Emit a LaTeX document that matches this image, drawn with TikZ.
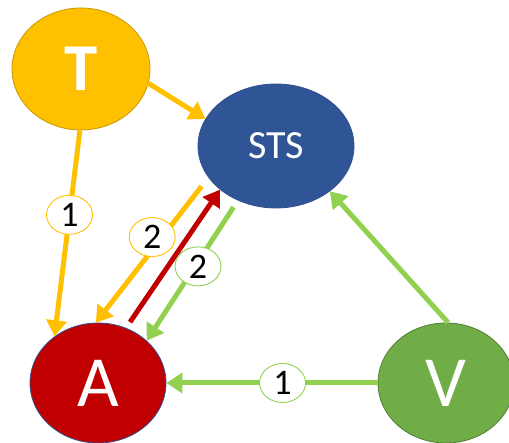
\documentclass[tikz,border=0pt]{standalone}
\usepackage{fontspec}
\setmainfont{Carlito}
\usetikzlibrary{shapes.geometric,arrows.meta}
\definecolor{cT}{HTML}{FFC000}
\definecolor{cTd}{HTML}{C99700}
\definecolor{cS}{HTML}{2F5597}
\definecolor{cSd}{HTML}{2F528F}
\definecolor{cA}{HTML}{C00000}
\definecolor{cV}{HTML}{70AD47}
\definecolor{cVd}{HTML}{507E32}
\definecolor{cG}{HTML}{92D050}
\tikzset{
  blob/.style={ellipse, inner sep=0pt, line width=0.8pt, text=white},
  conn/.style={line width=5pt, -{Triangle[length=16pt,width=20pt]}},
  lab/.style={ellipse, fill=white, line width=0.9pt, inner sep=0pt,
    minimum width=46pt, minimum height=39pt, text=black,
    font=\fontsize{36}{40}\selectfont},
}
\begin{document}
\begin{tikzpicture}[x=1pt,y=1pt]
\useasboundingbox (0,0) rectangle (509,443);
\clip (0,0) rectangle (509,443);
\node[blob, fill=cT, draw=cTd, minimum width=138pt, minimum height=122pt,
  font=\fontsize{67}{70}\selectfont\bfseries] (T) at (81,374) {T};
\node[blob, fill=cS, draw=cSd, minimum width=156pt, minimum height=124pt,
  font=\fontsize{40}{44}\selectfont] (S) at (276,297) {STS};
\node[blob, fill=cA, draw=cSd, minimum width=136pt, minimum height=120pt,
  font=\fontsize{72}{76}\selectfont] (A) at (98,60) {A};
\node[blob, fill=cV, draw=cVd, minimum width=136pt, minimum height=120pt,
  font=\fontsize{72}{76}\selectfont] (V) at (446,60) {V};
% T -> STS
\draw[conn, cT] (T.-12) -- (S.159);
% T -> A
\draw[conn, cT] (T.-91) -- node[lab, draw=cT, pos=0.41] (l1) {1} (A.133);
% STS -> A orange
\draw[conn, cT, shorten <=11pt] (S.205) -- node[lab, draw=cT, pos=0.41, xshift=-10pt] (l2) {2} (A.92);
% A -> STS red
\draw[conn, cA, shorten <=7pt] (A.63) -- (S.218);
% STS -> A green
\draw[conn, cG, shorten <=8pt] (S.235) -- node[lab, draw=cG, pos=0.47, xshift=3pt] (l3) {2} (A.41);
% V -> STS
\draw[conn, cG] (V.88) -- (S.-40);
% V -> A
\draw[conn, cG] (V.180) -- node[lab, draw=cG, pos=0.45] (l4) {1} (A.0);
\end{tikzpicture}
\end{document}
